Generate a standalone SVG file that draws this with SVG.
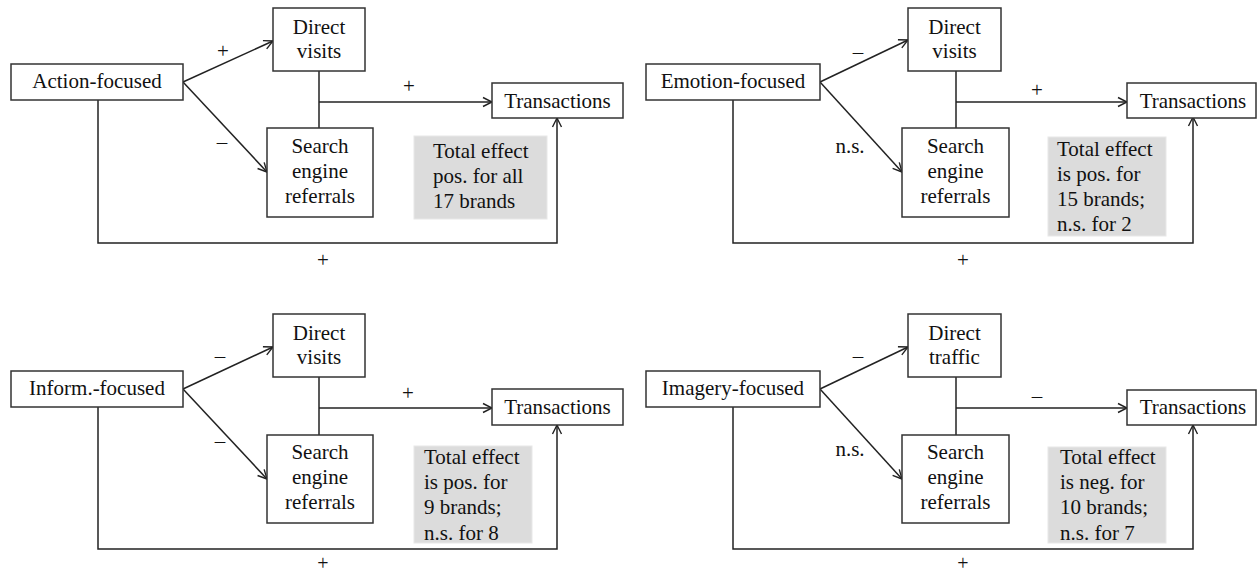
<svg xmlns="http://www.w3.org/2000/svg" width="1257" height="573" viewBox="0 0 1257 573">
<defs>
<marker id="ah" markerUnits="userSpaceOnUse" markerWidth="12" markerHeight="12" refX="10" refY="5" orient="auto" viewBox="0 0 12 10">
<path d="M1,0.5 L10,5 L1,9.5" fill="none" stroke="#222" stroke-width="1.4"/>
</marker>
</defs>
<style>
.box{fill:#fff;stroke:#333;stroke-width:1.5}
.gray{fill:#dcdcdc;stroke:#e8e8e8;stroke-width:1}
text{font-family:"Liberation Serif","Times New Roman",Times,serif;font-size:21px;fill:#111}
.c{text-anchor:middle}
.ln{fill:none;stroke:#222;stroke-width:1.5}
.ar{fill:none;stroke:#222;stroke-width:1.5;marker-end:url(#ah)}
</style>
<rect width="1257" height="573" fill="#fff"/>

<g id="connectors">
<!-- panel 1 -->
<line class="ar" x1="183" y1="82" x2="273" y2="41"/>
<line class="ar" x1="183" y1="82" x2="267" y2="172"/>
<line class="ln" x1="319" y1="71" x2="319" y2="128"/>
<line class="ar" x1="319" y1="102" x2="492" y2="102"/>
<polyline class="ar" points="98,100 98,243 557,243 557,118"/>
<!-- panel 2 -->
<line class="ar" x1="820" y1="82" x2="908" y2="40"/>
<line class="ar" x1="820" y1="82" x2="902" y2="172"/>
<line class="ln" x1="956" y1="71" x2="956" y2="128"/>
<line class="ar" x1="956" y1="102" x2="1127" y2="102"/>
<polyline class="ar" points="733,100 733,243 1193,243 1193,117"/>
<!-- panel 3 -->
<line class="ar" x1="183" y1="389" x2="273" y2="347"/>
<line class="ar" x1="183" y1="389" x2="267" y2="479"/>
<line class="ln" x1="319" y1="377" x2="319" y2="435"/>
<line class="ar" x1="319" y1="408" x2="492" y2="408"/>
<polyline class="ar" points="98,407 98,549 557,549 557,425"/>
<!-- panel 4 -->
<line class="ar" x1="820" y1="389" x2="908" y2="347"/>
<line class="ar" x1="820" y1="389" x2="902" y2="479"/>
<line class="ln" x1="956" y1="377" x2="956" y2="435"/>
<line class="ar" x1="956" y1="408" x2="1127" y2="408"/>
<polyline class="ar" points="733,407 733,549 1193,549 1193,425"/>
</g>

<g id="labels">
<text class="c" x="223" y="58">+</text>
<text class="c" x="222" y="149">–</text>
<text class="c" x="409" y="93">+</text>
<text class="c" x="323" y="267">+</text>

<text class="c" x="858" y="59">–</text>
<text class="c" x="850" y="153">n.s.</text>
<text class="c" x="1037" y="97">+</text>
<text class="c" x="963" y="267">+</text>

<text class="c" x="220" y="363">–</text>
<text class="c" x="220" y="448">–</text>
<text class="c" x="408" y="400">+</text>
<text class="c" x="323" y="570" style="font-size:20px">+</text>

<text class="c" x="858" y="363">–</text>
<text class="c" x="850" y="456">n.s.</text>
<text class="c" x="1037" y="403">–</text>
<text class="c" x="963" y="570" style="font-size:20px">+</text>
</g>

<!-- Panel 1 -->
<g id="p1-action"><rect class="box" x="11" y="64" width="172" height="36"/><text class="c" x="97" y="88">Action-focused</text></g>
<g id="p1-direct"><rect class="box" x="273" y="8" width="92" height="63"/><text class="c" x="319" y="34">Direct</text><text class="c" x="319" y="58">visits</text></g>
<g id="p1-search"><rect class="box" x="267" y="128" width="106" height="89"/><text class="c" x="320" y="153">Search</text><text class="c" x="320" y="178">engine</text><text class="c" x="320" y="203">referrals</text></g>
<g id="p1-trans"><rect class="box" x="492" y="83" width="131" height="35"/><text class="c" x="557.5" y="108">Transactions</text></g>
<g id="p1-total"><rect class="gray" x="414" y="136" width="133" height="83"/><text x="433" y="158">Total effect</text><text x="433" y="183">pos. for all</text><text x="433" y="208">17 brands</text></g>

<!-- Panel 2 -->
<g id="p2-emotion"><rect class="box" x="646" y="64" width="174" height="36"/><text class="c" x="733" y="88">Emotion-focused</text></g>
<g id="p2-direct"><rect class="box" x="908" y="8" width="93" height="63"/><text class="c" x="954.5" y="34">Direct</text><text class="c" x="954.5" y="58">visits</text></g>
<g id="p2-search"><rect class="box" x="902" y="128" width="107" height="89"/><text class="c" x="955.5" y="153">Search</text><text class="c" x="955.5" y="178">engine</text><text class="c" x="955.5" y="203">referrals</text></g>
<g id="p2-trans"><rect class="box" x="1127" y="83" width="129" height="35"/><text class="c" x="1193" y="108">Transactions</text></g>
<g id="p2-total"><rect class="gray" x="1048" y="137" width="118" height="99"/><text x="1057" y="156">Total effect</text><text x="1057" y="181">is pos. for</text><text x="1057" y="206">15 brands;</text><text x="1057" y="231">n.s. for 2</text></g>

<!-- Panel 3 -->
<g id="p3-inform"><rect class="box" x="11" y="371" width="172" height="36"/><text class="c" x="97" y="395">Inform.-focused</text></g>
<g id="p3-direct"><rect class="box" x="273" y="314" width="92" height="63"/><text class="c" x="319" y="340">Direct</text><text class="c" x="319" y="364">visits</text></g>
<g id="p3-search"><rect class="box" x="267" y="435" width="106" height="88"/><text class="c" x="320" y="459">Search</text><text class="c" x="320" y="484">engine</text><text class="c" x="320" y="509">referrals</text></g>
<g id="p3-trans"><rect class="box" x="492" y="389" width="131" height="36"/><text class="c" x="557.5" y="414">Transactions</text></g>
<g id="p3-total"><rect class="gray" x="414" y="446" width="118" height="97"/><text x="424" y="464">Total effect</text><text x="424" y="489">is pos. for</text><text x="424" y="514">9 brands;</text><text x="424" y="540">n.s. for 8</text></g>

<!-- Panel 4 -->
<g id="p4-imagery"><rect class="box" x="646" y="371" width="174" height="36"/><text class="c" x="733" y="395">Imagery-focused</text></g>
<g id="p4-direct"><rect class="box" x="908" y="314" width="93" height="63"/><text class="c" x="954.5" y="340">Direct</text><text class="c" x="954.5" y="364">traffic</text></g>
<g id="p4-search"><rect class="box" x="902" y="435" width="107" height="88"/><text class="c" x="955.5" y="459">Search</text><text class="c" x="955.5" y="484">engine</text><text class="c" x="955.5" y="509">referrals</text></g>
<g id="p4-trans"><rect class="box" x="1127" y="390" width="129" height="35"/><text class="c" x="1193" y="414">Transactions</text></g>
<g id="p4-total"><rect class="gray" x="1048" y="447" width="118" height="96"/><text x="1060" y="464">Total effect</text><text x="1060" y="489">is neg. for</text><text x="1060" y="514">10 brands;</text><text x="1060" y="540">n.s. for 7</text></g>
</svg>
